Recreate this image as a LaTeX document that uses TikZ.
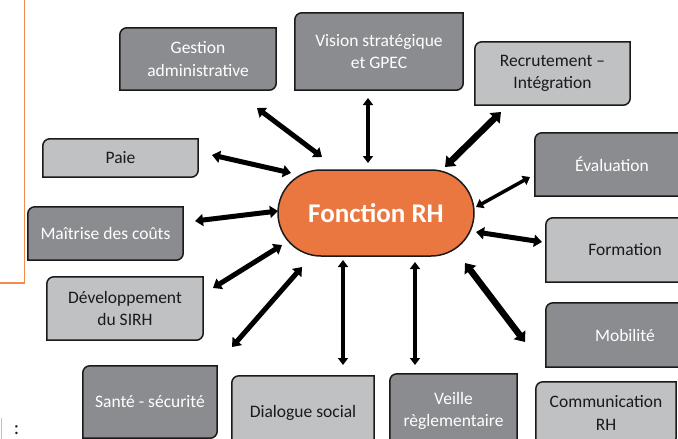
\documentclass[tikz,border=0pt]{standalone}
\usepackage{fontspec}
\setmainfont{Carlito}
\usetikzlibrary{arrows.meta,calc}
\pgfdeclarelayer{bg}
\pgfsetlayers{bg,main}
\definecolor{dkgray}{HTML}{8A8C90}
\definecolor{ltgray}{HTML}{BFC1C3}
\definecolor{fnorange}{HTML}{E9773F}
\definecolor{frameorange}{HTML}{F48A4C}
\definecolor{txt}{HTML}{1A1A1A}
\newcommand\diagbox[2]{%
  \draw[edge, fill=#2] ([yshift=-7pt]#1.north west) arc[start angle=180,end angle=90,radius=7pt]
    -- (#1.north east) -- ([yshift=7pt]#1.south east) arc[start angle=0,end angle=-90,radius=7pt]
    -- (#1.south west) -- cycle;}
\tikzset{
  edge/.style={line width=1.5pt, draw=txt},
  bx/.style={inner sep=0pt, align=center, font=\fontsize{17.5}{22.5}\selectfont},
  dk/.style={bx, text=white},
  lt/.style={bx, text=txt},
  fnode/.style={rectangle, rounded corners=43pt, draw=txt, line width=1.5pt, fill=fnorange,
    text=white, font=\bfseries\fontsize{27}{30}\selectfont, minimum width=196pt, minimum height=86pt, inner sep=0pt},
  arrthin/.style={line width=3.5pt, draw=black, {Triangle[length=7pt,width=10pt]}-{Triangle[length=7pt,width=10pt]}},
  arrmed/.style={line width=5pt, draw=black, {Triangle[length=8pt,width=12pt]}-{Triangle[length=8pt,width=12pt]}},
  arrthick/.style={line width=6.5pt, draw=black, {Triangle[length=9pt,width=14pt]}-{Triangle[length=9pt,width=14pt]}},
}
\begin{document}
\begin{tikzpicture}[x=1pt,y=-1pt]
\useasboundingbox (0,0) rectangle (678,439);
\clip (0,0) rectangle (678,439);
% orange frame fragment
\draw[frameorange, line width=1.6pt] (24.5,-2) -- (24.5,283) -- (-2,283);
% bottom-left fragment
\draw[black!25, line width=0.8pt] (1.5,418) -- (1.5,441);
\node[text=txt, font=\fontsize{20}{22}\selectfont, inner sep=0pt] (colon) at (16.5,430) {:};

% central node
\node[fnode] (fn) at (376,213) {Fonction RH};

% boxes
\node[dk, minimum width=156pt, minimum height=62pt] (gest) at (198,59) {Gestion\\administrative};
\node[dk, minimum width=168pt, minimum height=77pt] (vis) at (379,51.5) {Vision stratégique\\et GPEC};
\node[lt, minimum width=155pt, minimum height=63pt] (rec) at (552.5,73.5) {Recrutement –\\Intégration};
\node[dk, minimum width=154pt, minimum height=63pt] (eval) at (612,164.5) {Évaluation};
\node[lt, minimum width=158pt, minimum height=64pt] (form) at (625,250) {Formation};
\node[dk, minimum width=158pt, minimum height=64pt] (mob) at (625,335) {Mobilité};
\node[lt, minimum width=140pt, minimum height=62pt] (com) at (606,413) {Communication\\RH};
\node[dk, minimum width=127pt, minimum height=74pt] (veil) at (453.5,411) {Veille\\règlementaire};
\node[lt, minimum width=142pt, minimum height=74pt] (dial) at (303,413) {Dialogue social};
\node[dk, minimum width=134pt, minimum height=72pt] (sante) at (150,402) {Santé - sécurité};
\node[lt, minimum width=156pt, minimum height=63pt] (dev) at (125,308.5) {Développement\\du SIRH};
\node[dk, minimum width=155pt, minimum height=53pt] (mait) at (105.5,233.5) {Maîtrise des coûts};
\node[lt, minimum width=155pt, minimum height=38pt] (paie) at (120.5,158) {Paie};

\begin{pgfonlayer}{bg}
\fill[white] (0,0) rectangle (678,439);
\diagbox{gest}{dkgray}
\diagbox{vis}{dkgray}
\diagbox{rec}{ltgray}
\diagbox{eval}{dkgray}
\diagbox{form}{ltgray}
\diagbox{mob}{dkgray}
\diagbox{com}{ltgray}
\diagbox{veil}{dkgray}
\diagbox{dial}{ltgray}
\diagbox{sante}{dkgray}
\diagbox{dev}{ltgray}
\diagbox{mait}{dkgray}
\diagbox{paie}{ltgray}
\end{pgfonlayer}

% connectors
\draw[arrmed]   ($(gest)+(59,49)$)      -- ($(fn)+(-54,-56)$);
\draw[arrmed]   ($(paie)+(91.5,-3)$)    -- ($(fn)+(-85,-40)$);
\draw[arrmed]   ($(mait)+(89.5,-12.5)$) -- ($(fn)+(-98,-2)$);
\draw[arrmed]   ($(dev)+(88,-20.5)$)    -- ($(fn)+(-94,32)$);
\draw[arrmed]   ($(sante)+(82,-55)$)    -- ($(fn)+(-74,54)$);
\draw[arrthin]  ($(dial)+(40,-48)$)     -- ($(fn)+(-33,47)$);
\draw[arrthin]  ($(veil)+(-38.5,-46)$)  -- ($(fn)+(39,49)$);
\draw[arrthick] ($(mob)+(-100,7)$)      -- ($(fn)+(89,50)$);
\draw[arrmed]   ($(form)+(-83,-8)$)     -- ($(fn)+(100,19)$);
\draw[arrthin]  ($(eval)+(-82,12.5)$)   -- ($(fn)+(100,-6)$);
\draw[arrthick] ($(rec)+(-51.5,38.5)$)  -- ($(fn)+(69,-46)$);
\draw[arrthin]  ($(vis)+(-11,46.5)$)    -- ($(fn)+(-8,-50)$);
\end{tikzpicture}
\end{document}
